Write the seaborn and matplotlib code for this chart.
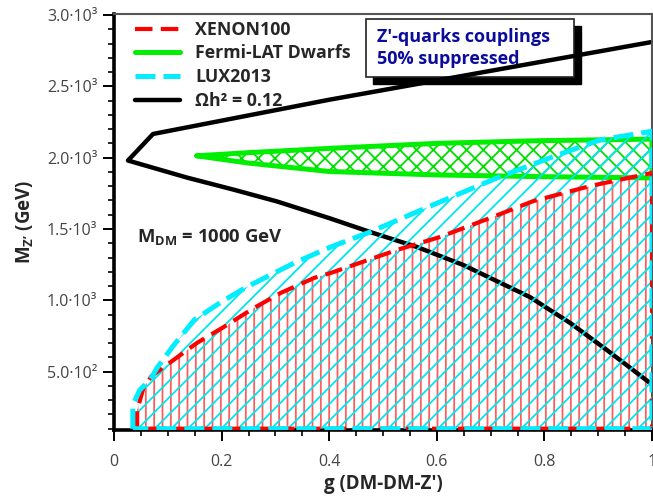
import numpy as np
import pandas as pd
import matplotlib
matplotlib.use("Agg")
import matplotlib.pyplot as plt
import seaborn as sns
from matplotlib.patches import Rectangle
from matplotlib.ticker import MultipleLocator, FixedLocator, FixedFormatter

# ---------------- data ----------------
omega_g = [1.0, 0.40, 0.0725, 0.026, 0.136, 0.221, 0.303, 0.401, 0.476, 0.563, 0.649, 0.773, 0.848, 0.916, 1.0]
omega_m = [2811, 2406, 2166, 1980, 1860, 1777, 1693, 1575, 1479, 1374, 1248, 1023, 841, 652, 410]

fermi_g = [0.154, 0.25, 0.40, 0.60, 0.79, 1.0]
fermi_up = [2013, 2035, 2065, 2100, 2119, 2130]
fermi_lo = [2013, 1962, 1903, 1879, 1867, 1858]

lux_g = [0.035, 0.035, 0.048, 0.067, 0.080, 0.110, 0.149, 0.200, 0.247, 0.335, 0.403, 0.476, 0.600, 0.712, 0.810, 0.903, 1.0]
lux_m = [100, 267, 372, 442, 526, 680, 862, 990, 1094, 1262, 1374, 1479, 1680, 1858, 1998, 2124, 2185]

xenon_g = [0.043, 0.043, 0.055, 0.070, 0.093, 0.154, 0.204, 0.260, 0.310, 0.372, 0.403, 0.526, 0.606, 0.699, 0.779, 0.885, 1.0]
xenon_m = [100, 230, 390, 470, 533, 701, 813, 946, 1052, 1157, 1192, 1353, 1444, 1577, 1695, 1801, 1893]

region_floor = 100

x_ticks = [0, 0.2, 0.4, 0.6, 0.8, 1.0]
x_ticklabels = ["0", "0.2", "0.4", "0.6", "0.8", "1"]
y_ticks = [500, 1000, 1500, 2000, 2500, 3000]
y_ticklabels = ["5.0·10²", "1.0·10³", "1.5·10³", "2.0·10³", "2.5·10³", "3.0·10³"]

legend_labels = ["XENON100", "Fermi-LAT Dwarfs", "LUX2013", "Ωh² = 0.12"]

# ---------------- style ----------------
sns.set_style("ticks")
plt.rcParams["font.family"] = ["Open Sans", "DejaVu Sans"]
plt.rcParams["mathtext.fontset"] = "custom"
plt.rcParams["mathtext.rm"] = "Open Sans"
plt.rcParams["mathtext.bf"] = "Open Sans:bold"
plt.rcParams["hatch.linewidth"] = 1.3

fig = plt.figure(figsize=(6.53, 4.98), dpi=100)
ax = fig.add_axes([114 / 653, (498 - 430) / 498, 538 / 653, 416 / 498])

def closed(xs, ys):
    # close the region along the floor and the right edge
    xx = list(xs) + [1.0, xs[0]]
    yy = list(ys) + [region_floor, region_floor]
    return xx, yy

# XENON100 region (vertical red hatch)
xx, yy = closed(xenon_g, xenon_m)
ax.fill(xx, yy, facecolor="none", edgecolor="#ff5c5c", linewidth=0, hatch="||", zorder=1)

# relic density line
sns.lineplot(x=omega_g, y=omega_m, sort=False, estimator=None, color="black",
             linewidth=3.2, ax=ax, zorder=2, label=legend_labels[3])

# Fermi-LAT band
fx = list(fermi_g) + list(fermi_g[::-1]) + [fermi_g[0]]
fy = list(fermi_up) + list(fermi_lo[::-1]) + [fermi_up[0]]
ax.fill(fx, fy, facecolor="none", edgecolor="#00e000", linewidth=0, hatch="xx", zorder=3)
sns.lineplot(x=fx, y=fy, sort=False, estimator=None, color="#00ee00",
             linewidth=3.6, ax=ax, zorder=3, label=legend_labels[1])

# LUX region (diagonal cyan hatch)
lx, ly = closed(lux_g, lux_m)
ax.fill(lx, ly, facecolor="none", edgecolor="#00e5ee", linewidth=0, hatch="//", zorder=4)

# boundaries
sns.lineplot(x=xx, y=yy, sort=False, estimator=None, color="#ff0000",
             linewidth=3.0, linestyle=(0, (4.2, 2.0)), ax=ax, zorder=5, label=legend_labels[0])
sns.lineplot(x=lx, y=ly, sort=False, estimator=None, color="#00eeff",
             linewidth=3.6, linestyle=(0, (4.0, 1.6)), ax=ax, zorder=6, label=legend_labels[2])

ax.set_xlim(0, 1)
ax.set_ylim(91, 3007)

# ticks
ax.xaxis.set_major_locator(FixedLocator(x_ticks))
ax.xaxis.set_major_formatter(FixedFormatter(x_ticklabels))
ax.xaxis.set_minor_locator(MultipleLocator(0.05))
ax.yaxis.set_major_locator(FixedLocator(y_ticks))
ax.yaxis.set_major_formatter(FixedFormatter(y_ticklabels))
ax.yaxis.set_minor_locator(MultipleLocator(100))
ax.tick_params(which="major", direction="out", length=8, width=1.4, color="black",
               labelsize=11.5, labelcolor="#444444", pad=4)
ax.tick_params(which="minor", direction="out", length=4.5, width=1.2, color="black")
ax.tick_params(axis="x", which="major", pad=9)

for s in ["left", "bottom"]:
    ax.spines[s].set_linewidth(2.6)
    ax.spines[s].set_color("black")
for s in ["top", "right"]:
    ax.spines[s].set_visible(True)
    ax.spines[s].set_linewidth(1.5)
    ax.spines[s].set_color("#555555")

ax.set_xlabel("g (DM-DM-Z')", fontsize=13.5, fontweight="bold", labelpad=3)
ax.set_ylabel("$\\mathbf{M_{Z\u2019}}$ (GeV)", fontsize=13.5, fontweight="bold", labelpad=8)

# legend
handles, labels = ax.get_legend_handles_labels()
order = [labels.index(l) for l in legend_labels]
leg = ax.legend([handles[i] for i in order], [labels[i] for i in order],
                loc="upper left", bbox_to_anchor=(0.0, 1.035), frameon=False,
                prop={"weight": "bold", "size": 12.8}, handlelength=2.5,
                handletextpad=0.85, labelspacing=0.32, borderaxespad=0.8)

# annotation box with shadow
bx0, by0, bw, bh = 0.468, 0.849, 0.387, 0.139
dx, dy = 7 / 538, 7 / 416
ax.add_patch(Rectangle((bx0 + dx, by0 - dy), bw, bh, transform=ax.transAxes,
                       facecolor="black", edgecolor="black", zorder=1.5, clip_on=False))
ax.add_patch(Rectangle((bx0, by0), bw, bh, transform=ax.transAxes,
                       facecolor="white", edgecolor="#222222", linewidth=1.2, zorder=1.6, clip_on=False))
ax.text(bx0 + 0.021, by0 + bh / 2, "Z'-quarks couplings\n50% suppressed", transform=ax.transAxes,
        ha="left", va="center", fontsize=13, fontweight="bold", color="#0c0c9c",
        linespacing=1.25, zorder=1.8)

ax.text(0.043, 1444, r"$\mathbf{M_{DM}}$ = 1000 GeV", fontsize=13.3, fontweight="bold",
        ha="left", va="center", zorder=7)

fig.savefig("out.png", dpi=100)
